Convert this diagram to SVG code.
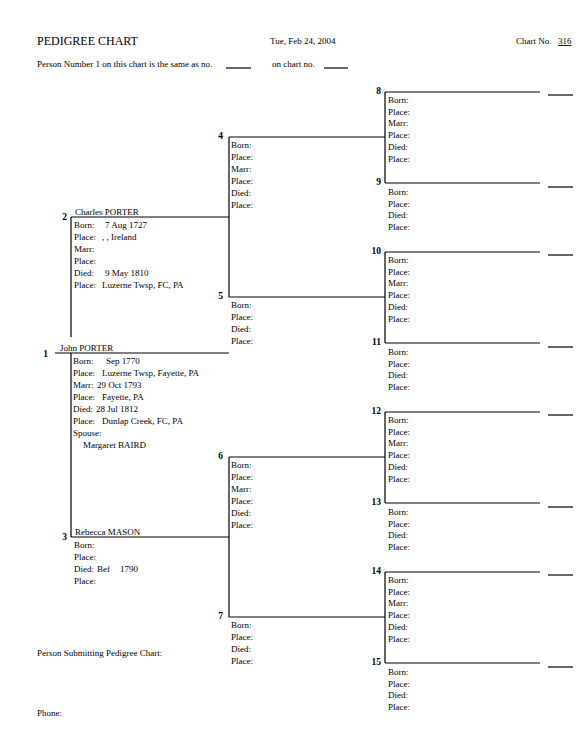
<svg xmlns="http://www.w3.org/2000/svg" width="576" height="754" viewBox="0 0 576 754">
<style>
text{font-family:"Liberation Serif","Times New Roman",serif;fill:#000}
.t{font-size:9px}
.h{font-size:12px}
.n{font-size:9.5px;font-weight:bold;text-anchor:end}
.ln{stroke:#000;stroke-width:1.2;fill:none}
.u{text-decoration:underline}
</style>
<rect width="576" height="754" fill="#fff"/>
<g id="header">
<text class="h" x="37" y="45">PEDIGREE CHART</text>
<text class="t" x="270" y="44">Tue, Feb 24, 2004</text>
<text class="t" x="516" y="44">Chart No.</text>
<text class="t u" x="558" y="44">316</text>
<text class="t" x="37" y="67">Person Number 1 on this chart is the same as no.</text>
<line class="ln" x1="226" y1="68" x2="251" y2="68"/>
<text class="t" x="272" y="67">on chart no.</text>
<line class="ln" x1="324" y1="68" x2="348" y2="68"/>
</g>
<g id="connectors">
<line class="ln" x1="71" y1="217" x2="71" y2="337"/>
<line class="ln" x1="71" y1="353" x2="71" y2="537"/>
<line class="ln" x1="229" y1="137" x2="229" y2="297"/>
<line class="ln" x1="229" y1="457" x2="229" y2="617"/>
<line class="ln" x1="385" y1="92" x2="385" y2="183"/>
<line class="ln" x1="385" y1="252" x2="385" y2="343"/>
<line class="ln" x1="385" y1="412" x2="385" y2="503"/>
<line class="ln" x1="385" y1="572" x2="385" y2="663"/>
</g>
<g id="p1">
<line class="ln" x1="55" y1="353" x2="229" y2="353"/>
<text class="n" x="48" y="357">1</text>
<text class="t" x="60" y="351">John PORTER</text>
<text class="t" x="73" y="364">Born:</text><text class="t" x="106" y="364">Sep 1770</text>
<text class="t" x="73" y="376">Place:</text><text class="t" x="102" y="376">Luzerne Twsp, Fayette, PA</text>
<text class="t" x="73" y="388">Marr:</text><text class="t" x="97" y="388">29 Oct 1793</text>
<text class="t" x="73" y="400">Place:</text><text class="t" x="102" y="400">Fayette, PA</text>
<text class="t" x="73" y="412">Died:</text><text class="t" x="96" y="412">28 Jul 1812</text>
<text class="t" x="73" y="424">Place:</text><text class="t" x="102" y="424">Dunlap Creek, FC, PA</text>
<text class="t" x="73" y="436">Spouse:</text>
<text class="t" x="83" y="448">Margaret BAIRD</text>
</g>
<g id="p2">
<line class="ln" x1="71" y1="217" x2="229" y2="217"/>
<text class="n" x="67" y="220">2</text>
<text class="t" x="75" y="215">Charles PORTER</text>
<text class="t" x="74" y="228">Born:</text><text class="t" x="105" y="228">7 Aug 1727</text>
<text class="t" x="74" y="240">Place:</text><text class="t" x="102" y="240">, , Ireland</text>
<text class="t" x="74" y="252">Marr:</text>
<text class="t" x="74" y="264">Place:</text>
<text class="t" x="74" y="276">Died:</text><text class="t" x="105" y="276">9 May 1810</text>
<text class="t" x="74" y="288">Place:</text><text class="t" x="102" y="288">Luzerne Twsp, FC, PA</text>
</g>
<g id="p3">
<line class="ln" x1="71" y1="537" x2="229" y2="537"/>
<text class="n" x="67" y="540">3</text>
<text class="t" x="75" y="535">Rebecca MASON</text>
<text class="t" x="74" y="548">Born:</text>
<text class="t" x="74" y="560">Place:</text>
<text class="t" x="74" y="572">Died:</text><text class="t" x="97" y="572">Bef</text><text class="t" x="120" y="572">1790</text>
<text class="t" x="74" y="584">Place:</text>
</g>
<g id="p4">
<line class="ln" x1="229" y1="137" x2="385" y2="137"/>
<text class="n" x="223" y="139">4</text>
<text class="t" x="231" y="148">Born:</text>
<text class="t" x="231" y="160">Place:</text>
<text class="t" x="231" y="172">Marr:</text>
<text class="t" x="231" y="184">Place:</text>
<text class="t" x="231" y="196">Died:</text>
<text class="t" x="231" y="208">Place:</text>
</g>
<g id="p5">
<line class="ln" x1="229" y1="297" x2="385" y2="297"/>
<text class="n" x="223" y="299">5</text>
<text class="t" x="231" y="308">Born:</text>
<text class="t" x="231" y="320">Place:</text>
<text class="t" x="231" y="332">Died:</text>
<text class="t" x="231" y="344">Place:</text>
</g>
<g id="p6">
<line class="ln" x1="229" y1="457" x2="385" y2="457"/>
<text class="n" x="223" y="459">6</text>
<text class="t" x="231" y="468">Born:</text>
<text class="t" x="231" y="480">Place:</text>
<text class="t" x="231" y="492">Marr:</text>
<text class="t" x="231" y="504">Place:</text>
<text class="t" x="231" y="516">Died:</text>
<text class="t" x="231" y="528">Place:</text>
</g>
<g id="p7">
<line class="ln" x1="229" y1="617" x2="385" y2="617"/>
<text class="n" x="223" y="619">7</text>
<text class="t" x="231" y="628">Born:</text>
<text class="t" x="231" y="640">Place:</text>
<text class="t" x="231" y="652">Died:</text>
<text class="t" x="231" y="664">Place:</text>
</g>
<g id="p8">
<line class="ln" x1="385" y1="92" x2="540" y2="92"/>
<line class="ln" x1="548" y1="95" x2="573" y2="95"/>
<text class="n" x="381" y="94">8</text>
<text class="t" x="388" y="103">Born:</text>
<text class="t" x="388" y="115">Place:</text>
<text class="t" x="388" y="126">Marr:</text>
<text class="t" x="388" y="138">Place:</text>
<text class="t" x="388" y="150">Died:</text>
<text class="t" x="388" y="162">Place:</text>
</g>
<g id="p9">
<line class="ln" x1="385" y1="183" x2="540" y2="183"/>
<line class="ln" x1="548" y1="187" x2="573" y2="187"/>
<text class="n" x="381" y="185">9</text>
<text class="t" x="388" y="195">Born:</text>
<text class="t" x="388" y="207">Place:</text>
<text class="t" x="388" y="218">Died:</text>
<text class="t" x="388" y="230">Place:</text>
</g>
<g id="p10">
<line class="ln" x1="385" y1="252" x2="540" y2="252"/>
<line class="ln" x1="548" y1="255" x2="573" y2="255"/>
<text class="n" x="381" y="254">10</text>
<text class="t" x="388" y="263">Born:</text>
<text class="t" x="388" y="275">Place:</text>
<text class="t" x="388" y="286">Marr:</text>
<text class="t" x="388" y="298">Place:</text>
<text class="t" x="388" y="310">Died:</text>
<text class="t" x="388" y="322">Place:</text>
</g>
<g id="p11">
<line class="ln" x1="385" y1="343" x2="540" y2="343"/>
<line class="ln" x1="548" y1="347" x2="573" y2="347"/>
<text class="n" x="381" y="345">11</text>
<text class="t" x="388" y="355">Born:</text>
<text class="t" x="388" y="367">Place:</text>
<text class="t" x="388" y="378">Died:</text>
<text class="t" x="388" y="390">Place:</text>
</g>
<g id="p12">
<line class="ln" x1="385" y1="412" x2="540" y2="412"/>
<line class="ln" x1="548" y1="415" x2="573" y2="415"/>
<text class="n" x="381" y="414">12</text>
<text class="t" x="388" y="423">Born:</text>
<text class="t" x="388" y="435">Place:</text>
<text class="t" x="388" y="446">Marr:</text>
<text class="t" x="388" y="458">Place:</text>
<text class="t" x="388" y="470">Died:</text>
<text class="t" x="388" y="482">Place:</text>
</g>
<g id="p13">
<line class="ln" x1="385" y1="503" x2="540" y2="503"/>
<line class="ln" x1="548" y1="507" x2="573" y2="507"/>
<text class="n" x="381" y="505">13</text>
<text class="t" x="388" y="515">Born:</text>
<text class="t" x="388" y="527">Place:</text>
<text class="t" x="388" y="538">Died:</text>
<text class="t" x="388" y="550">Place:</text>
</g>
<g id="p14">
<line class="ln" x1="385" y1="572" x2="540" y2="572"/>
<line class="ln" x1="548" y1="575" x2="573" y2="575"/>
<text class="n" x="381" y="574">14</text>
<text class="t" x="388" y="583">Born:</text>
<text class="t" x="388" y="595">Place:</text>
<text class="t" x="388" y="606">Marr:</text>
<text class="t" x="388" y="618">Place:</text>
<text class="t" x="388" y="630">Died:</text>
<text class="t" x="388" y="642">Place:</text>
</g>
<g id="p15">
<line class="ln" x1="385" y1="663" x2="540" y2="663"/>
<line class="ln" x1="548" y1="667" x2="573" y2="667"/>
<text class="n" x="381" y="665">15</text>
<text class="t" x="388" y="675">Born:</text>
<text class="t" x="388" y="687">Place:</text>
<text class="t" x="388" y="698">Died:</text>
<text class="t" x="388" y="710">Place:</text>
</g>
<g id="footer">
<text class="t" x="37" y="656">Person Submitting Pedigree Chart:</text>
<text class="t" x="37" y="716">Phone:</text>
</g>
</svg>
